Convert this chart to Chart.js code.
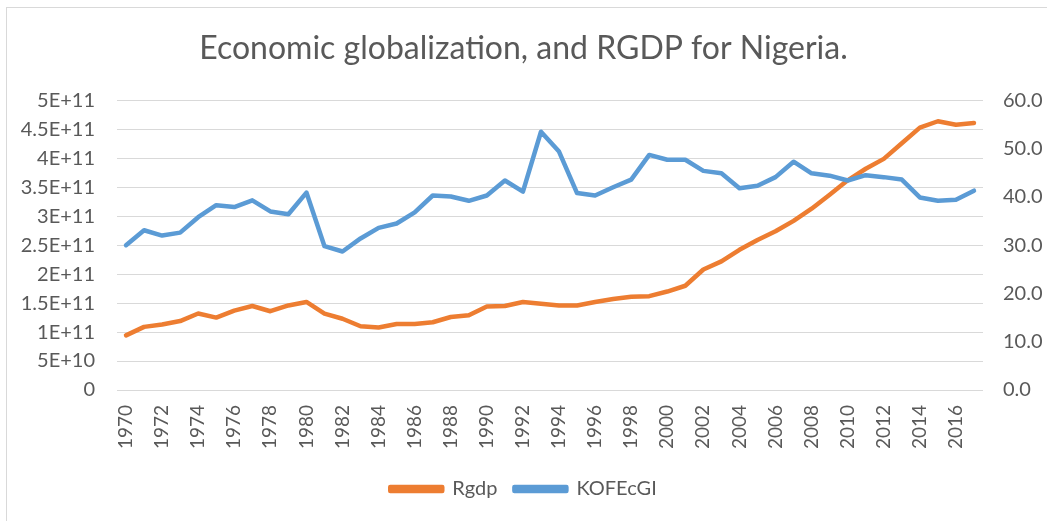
<!DOCTYPE html>
<html>
<head>
<meta charset="utf-8">
<script src="https://cdn.jsdelivr.net/npm/chart.js@4/dist/chart.umd.min.js"></script>
<style>
  html, body { margin: 0; padding: 0; background: #fff; }
  #wrap { position: relative; width: 1047px; height: 521px; overflow: hidden; }
  #frame { position: absolute; left: 6px; top: 7px; width: 1100px; height: 600px; border: 1px solid #d9d9d9; }
  canvas { position: absolute; left: 0; top: 0; }
</style>
</head>
<body>
<div id="wrap">
  <div id="frame"></div>
  <canvas id="chart" width="1047" height="521"></canvas>
</div>
<script>
const years = []
for (let y = 1970; y <= 2017; y++) years.push(String(y))

const rgdp = [
  9.43e10, 1.09e11, 1.13e11, 1.19e11, 1.32e11, 1.25e11, 1.37e11, 1.45e11, 1.36e11, 1.46e11,
  1.52e11, 1.32e11, 1.23e11, 1.10e11, 1.08e11, 1.14e11, 1.14e11, 1.17e11, 1.26e11, 1.29e11,
  1.44e11, 1.45e11, 1.52e11, 1.49e11, 1.46e11, 1.46e11, 1.52e11, 1.57e11, 1.61e11, 1.62e11,
  1.70e11, 1.80e11, 2.08e11, 2.22e11, 2.42e11, 2.59e11, 2.74e11, 2.92e11, 3.13e11, 3.37e11,
  3.62e11, 3.82e11, 3.99e11, 4.26e11, 4.53e11, 4.64e11, 4.58e11, 4.61e11,
]

const kofEcGI = [
  30.0, 33.1, 32.0, 32.6, 35.8, 38.3, 37.9, 39.3, 37.0, 36.4,
  40.9, 29.8, 28.7, 31.4, 33.6, 34.5, 36.8, 40.3, 40.1, 39.2,
  40.3, 43.4, 41.1, 53.5, 49.4, 40.8, 40.3, 42.0, 43.6, 48.7,
  47.7, 47.7, 45.4, 44.9, 41.8, 42.3, 44.1, 47.3, 44.9, 44.4,
  43.4, 44.5, 44.1, 43.6, 39.9, 39.2, 39.4, 41.3,
]

const ORANGE = '#ED7D31'
const BLUE = '#5B9BD5'
const TEXT = '#595959'
const GRID = '#d9d9d9'
const FONT = 'Lato, "Open Sans", sans-serif'

const ctx = document.getElementById('chart').getContext('2d')

new Chart(ctx, {
  type: 'line',
  data: {
    labels: years,
    datasets: [
      {
        label: 'Rgdp',
        data: rgdp,
        yAxisID: 'y',
        borderColor: ORANGE,
        backgroundColor: ORANGE,
        borderWidth: 4.5,
        pointRadius: 0,
        tension: 0,
        borderJoinStyle: 'round',
        borderCapStyle: 'round',
        order: 1,
      },
      {
        label: 'KOFEcGI',
        data: kofEcGI,
        yAxisID: 'y1',
        borderColor: BLUE,
        backgroundColor: BLUE,
        borderWidth: 4.5,
        pointRadius: 0,
        tension: 0,
        borderJoinStyle: 'round',
        borderCapStyle: 'round',
        order: 0,
      },
    ],
  },
  options: {
    responsive: false,
    animation: false,
    layout: { padding: { left: 0, right: 0, top: 0, bottom: 12 } },
    scales: {
      x: {
        offset: true,
        grid: { display: false, drawTicks: false },
        border: { display: false },
        ticks: {
          color: TEXT,
          font: { family: FONT, size: 19 },
          minRotation: 90,
          maxRotation: 90,
          padding: 15,
          autoSkip: false,
          callback(value, index) {
            return index % 2 === 0 ? this.getLabelForValue(value) : ''
          },
        },
        afterFit(scale) { scale.height = 72 },
      },
      y: {
        position: 'left',
        min: 0,
        max: 5e11,
        grid: { color: GRID, lineWidth: 1, drawTicks: false },
        border: { display: false },
        ticks: {
          stepSize: 5e10,
          color: TEXT,
          font: { family: FONT, size: 20 },
          padding: 22,
          callback(value) {
            if (value === 0) return '0'
            return Number(value.toPrecision(3)).toExponential().replace('e+', 'E+')
          },
        },
        afterFit(scale) { scale.width = 117 },
      },
      y1: {
        position: 'right',
        min: 0,
        max: 60,
        grid: { display: false, drawTicks: false },
        border: { display: false },
        ticks: {
          stepSize: 10,
          color: TEXT,
          font: { family: FONT, size: 20 },
          padding: 20,
          callback(value) { return value.toFixed(1) },
        },
        afterFit(scale) { scale.width = 64 },
      },
    },
    plugins: {
      title: {
        display: true,
        text: 'Economic globalization, and RGDP for Nigeria.',
        color: TEXT,
        font: { family: FONT, size: 32, weight: 'normal' },
        padding: { top: 29, bottom: 33 },
      },
      legend: {
        position: 'bottom',
        labels: {
          color: TEXT,
          font: { family: FONT, size: 20 },
          boxWidth: 52,
          boxHeight: 4,
          padding: 17,
          sort: (a, b) => a.datasetIndex - b.datasetIndex,
        },
      },
      tooltip: { enabled: false },
    },
  },
})
</script>
</body>
</html>
